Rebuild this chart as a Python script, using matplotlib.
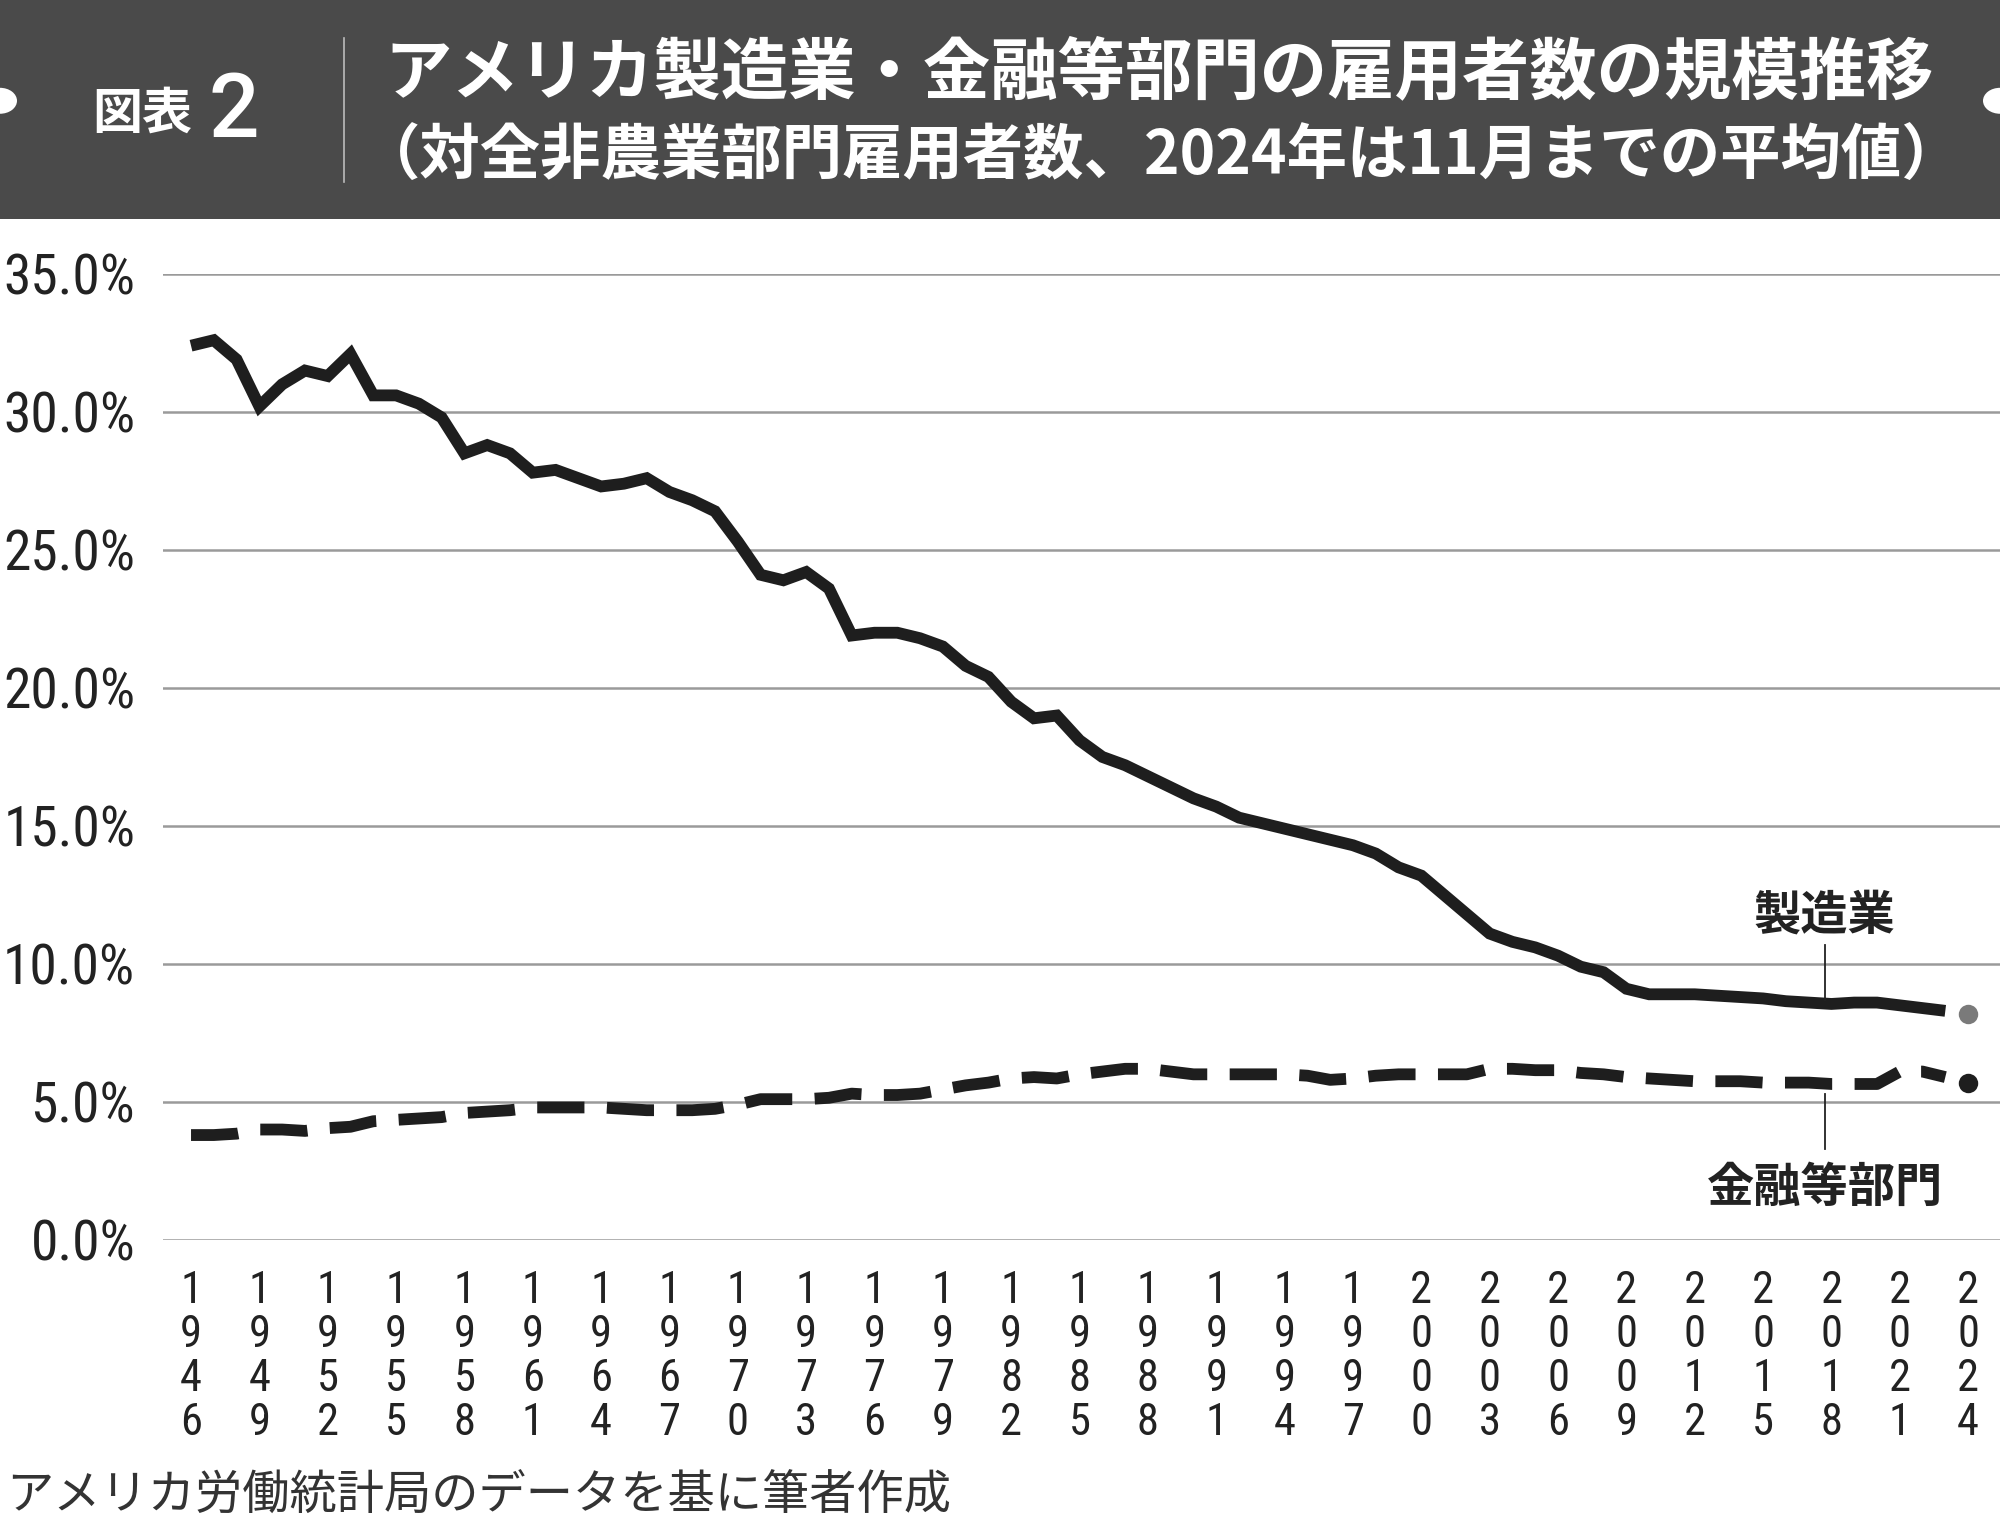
import matplotlib.pyplot as plt
from matplotlib.patches import Rectangle, Circle
from matplotlib.lines import Line2D

plt.rcParams['font.family'] = ['Noto Sans CJK JP', 'DejaVu Sans']

years = list(range(1946, 2024))

# manufacturing share of nonfarm employment (%)
manufacturing = [
    32.4, 32.6, 31.9, 30.2, 31.0, 31.5, 31.3, 32.1, 30.6, 30.6,
    30.3, 29.8, 28.5, 28.8, 28.5, 27.8, 27.9, 27.6, 27.3, 27.4,
    27.6, 27.1, 26.8, 26.4, 25.3, 24.1, 23.9, 24.2, 23.6, 21.9,
    22.0, 22.0, 21.8, 21.5, 20.8, 20.4, 19.5, 18.9, 19.0, 18.1,
    17.5, 17.2, 16.8, 16.4, 16.0, 15.7, 15.3, 15.1, 14.9, 14.7,
    14.5, 14.3, 14.0, 13.5, 13.2, 12.5, 11.8, 11.1, 10.8, 10.6,
    10.3, 9.9, 9.7, 9.1, 8.9, 8.9, 8.9, 8.85, 8.8, 8.75,
    8.65, 8.6, 8.55, 8.6, 8.6, 8.5, 8.4, 8.3,
]

# financial activities share (%)
finance = [
    3.8, 3.8, 3.85, 4.0, 4.0, 3.95, 4.05, 4.1, 4.3, 4.35,
    4.4, 4.45, 4.6, 4.65, 4.7, 4.8, 4.8, 4.8, 4.8, 4.75,
    4.7, 4.7, 4.7, 4.75, 4.9, 5.1, 5.1, 5.1, 5.15, 5.3,
    5.25, 5.25, 5.3, 5.45, 5.6, 5.7, 5.85, 5.9, 5.85, 6.0,
    6.1, 6.2, 6.2, 6.1, 6.0, 6.0, 6.0, 6.0, 6.0, 5.95,
    5.8, 5.85, 5.95, 6.0, 6.0, 6.0, 6.0, 6.2, 6.2, 6.15,
    6.15, 6.05, 6.0, 5.9, 5.85, 5.8, 5.75, 5.75, 5.75, 5.7,
    5.7, 5.7, 5.65, 5.65, 5.65, 6.1, 6.1, 5.9,
]

# 2024 average (to November), drawn as dots
year_2024 = 2024
manufacturing_2024 = 8.2
finance_2024 = 5.7

tick_years = list(range(1946, 2025, 3))
y_ticks = [0, 5, 10, 15, 20, 25, 30, 35]

num_font = ['Roboto Condensed', 'Roboto', 'DejaVu Sans']

fig = plt.figure(figsize=(20, 15.27), dpi=100)

# header band
fig.add_artist(Rectangle((0, 0.8566), 1, 0.1434, transform=fig.transFigure,
                         facecolor='#4a4a4a', edgecolor='none'))
for cx in (0, 1):
    fig.add_artist(Circle((cx, 0.934), 0.0085, transform=fig.transFigure,
                          facecolor='white', edgecolor='none'))
fig.add_artist(Line2D([0.172, 0.172], [0.881, 0.975], transform=fig.transFigure,
                      color='#bbbbbb', lw=1.2))
fig.text(0.046, 0.925, '図表', color='white', fontsize=36, fontweight='bold',
         va='center', ha='left')
fig.text(0.104, 0.926, '2', color='white', fontsize=64, va='center', ha='left',
         fontweight='medium', family=['Roboto', 'DejaVu Sans'])
fig.text(0.192, 0.952, 'アメリカ製造業・金融等部門の雇用者数の規模推移',
         color='white', fontsize=48.5, fontweight='bold', va='center', ha='left')
fig.text(0.180, 0.897, '（対全非農業部門雇用者数、2024年は11月までの平均値）',
         color='white', fontsize=43.5, fontweight='bold', va='center', ha='left')

ax = fig.add_axes([0.0815, 0.188, 0.9185, 0.6326])

ax.plot(years, manufacturing, color='#1e1e1e', lw=8.5, solid_joinstyle='miter',
        solid_capstyle='butt')
ax.plot(years, finance, color='#1e1e1e', lw=8.5, dashes=(4.0, 1.9),
        dash_capstyle='butt')
ax.plot([year_2024], [manufacturing_2024], 'o', color='#7a7a7a', ms=14, mec='none')
ax.plot([year_2024], [finance_2024], 'o', color='#1e1e1e', ms=14, mec='none')

ax.set_xlim(1944.77, 2025.4)
ax.set_ylim(0, 35)
ax.set_yticks(y_ticks)
ax.set_yticklabels([f'{v:.1f}%' for v in y_ticks], family=num_font,
                   fontstretch='condensed', fontsize=40, color='#222222')
ax.set_xticks(tick_years)
ax.set_xticklabels(['\n'.join(str(y)) for y in tick_years], family=num_font,
                   fontsize=32, color='#222222', linespacing=1.06)
ax.tick_params(axis='both', length=0)
ax.tick_params(axis='y', pad=20)
ax.tick_params(axis='x', pad=22)
ax.grid(axis='y', color='#9a9a9a', lw=1.8)
ax.set_axisbelow(True)
for s in ax.spines.values():
    s.set_visible(False)

# series labels with leader lines
ax.plot([2017.7, 2017.7], [8.7, 10.7], color='#222222', lw=1.3)
ax.text(2017.7, 11.75, '製造業', fontsize=34, fontweight='bold', ha='center',
        va='center', color='#222222')
ax.plot([2017.7, 2017.7], [3.3, 5.3], color='#222222', lw=1.3)
ax.text(2017.7, 1.9, '金融等部門', fontsize=34, fontweight='bold', ha='center',
        va='center', color='#222222')

fig.text(0.003, 0.004, 'アメリカ労働統計局のデータを基に筆者作成', fontsize=34,
         color='#333333', va='bottom', ha='left')

fig.savefig('out.png', dpi=100)
